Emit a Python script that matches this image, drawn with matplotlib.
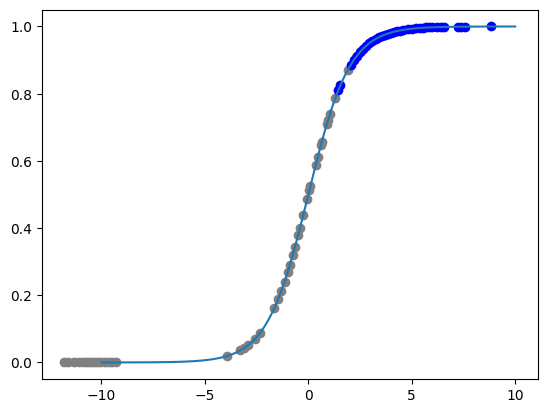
"""
logistic curve with points
"""

import numpy as np
import matplotlib.pyplot as plt

# grey points (x, y)
grey_x = [-11.8, -11.6, -11.35, -11.1, -10.9, -10.75, -10.6, -10.45, -10.3, -10.15,
          -10.0, -9.85, -9.65, -9.5, -9.3,
          -3.95, -3.3, -3.1, -2.9, -2.6, -2.35, -1.65, -1.45, -1.3, -1.15,
          -1.0, -0.9, -0.75, -0.65, -0.5, -0.4, -0.25, -0.05, 0.05, 0.1,
          0.35, 0.45, 0.6, 0.65, 0.9, 0.95, 1.05, 1.3, 1.9, 2.3, 2.55]
grey_y = [0.0, 0.0, 0.0, 0.0, 0.0, 0.0, 0.0, 0.0, 0.0, 0.0,
          0.0, 0.0, 0.0, 0.0, 0.0,
          0.019, 0.036, 0.043, 0.052, 0.069, 0.087, 0.161, 0.190, 0.214, 0.241,
          0.269, 0.289, 0.321, 0.343, 0.378, 0.401, 0.438, 0.488, 0.512, 0.525,
          0.587, 0.611, 0.646, 0.657, 0.711, 0.721, 0.741, 0.786, 0.870, 0.909, 0.928]

# blue points
blue_x = [1.45, 1.55, 2.05, 2.2, 2.35, 2.5, 2.65, 2.8, 2.95, 3.1, 3.25, 3.4,
          3.55, 3.7, 3.85, 4.0, 4.15, 4.3, 4.45, 4.6, 4.8, 5.0, 5.2, 5.4,
          5.55, 5.7, 5.85, 6.0, 6.2, 6.4, 6.55, 7.25, 7.4, 7.55, 8.85]
blue_y = [0.810, 0.825, 0.886, 0.900, 0.913, 0.924, 0.934, 0.943, 0.950, 0.957, 0.963, 0.968,
          0.972, 0.976, 0.979, 0.982, 0.984, 0.987, 0.988, 0.990, 0.992, 0.993, 0.995, 0.995,
          0.996, 0.997, 0.997, 0.998, 0.998, 0.998, 0.999, 0.999, 0.999, 0.999, 1.0]

if __name__ == '__main__':
    x = np.linspace(-10, 10, 300)
    curve = 1 / (1 + np.exp(-x))

    plt.figure(figsize=(6.4, 4.8), dpi=100)
    plt.scatter(grey_x, grey_y, color="grey")
    plt.scatter(blue_x, blue_y, color="blue")
    plt.plot(x, curve)

    plt.savefig("out.png", bbox_inches="tight")
